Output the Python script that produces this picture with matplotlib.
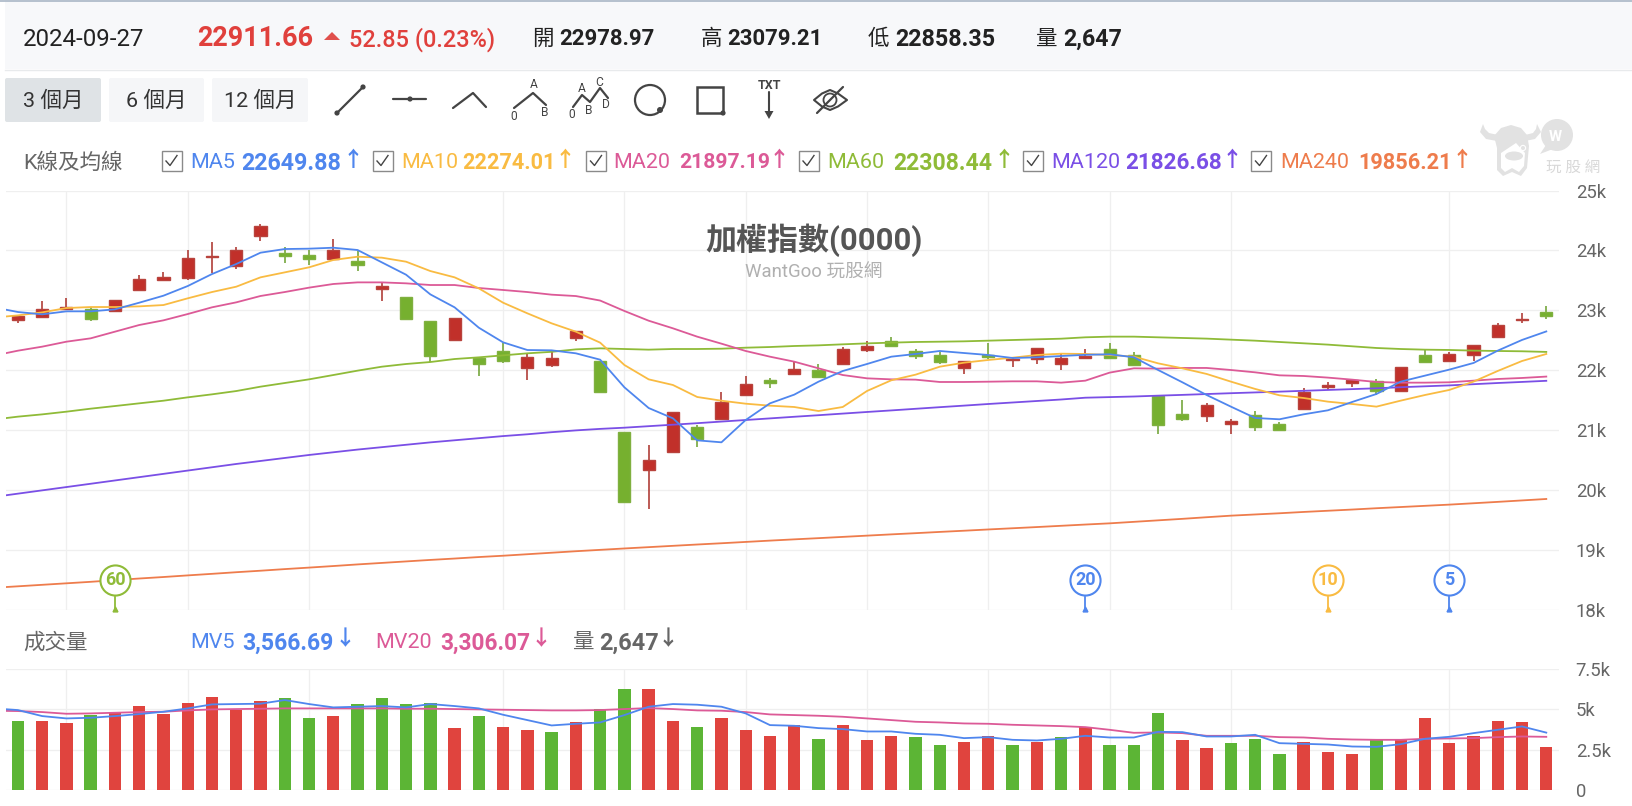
import numpy as np
import matplotlib
matplotlib.use('Agg')
import matplotlib.pyplot as plt
from matplotlib.patches import Rectangle, FancyBboxPatch, Circle, Ellipse, Polygon

plt.rcParams['font.family'] = ['Roboto', 'Noto Sans CJK TC', 'DejaVu Sans']

W, H = 1632, 806

# daily candles
opens = [22840, 22885, 23029, 23024, 22985, 23335, 23513, 23535, 23885, 23735, 24241, 23952, 23930, 23863, 23824, 23363,
         23224, 22824, 22512, 22207, 22324, 22040, 22084, 22540, 22151, 20973, 20334, 20634, 21056, 21190, 21584, 21835,
         21940, 22001, 22112, 22340, 22485, 22329, 22251, 22035, 22257, 22168, 22190, 22112, 22212, 22352, 22252, 21574,
         21279, 21240, 21112, 21251, 21101, 21363, 21729, 21791, 21818, 21663, 22252, 22163, 22257, 22563, 22835, 22978.97]
highs = [22907, 23157, 23207, 23052, 23179, 23585, 23635, 24002, 24135, 24058, 24436, 24052, 24008, 24185, 23991, 23463,
         23224, 22824, 22879, 22229, 22462, 22273, 22301, 22652, 22151, 20973, 20756, 21301, 21084, 21634, 21907, 21879,
         22157, 22107, 22385, 22485, 22552, 22357, 22312, 22151, 22457, 22229, 22374, 22268, 22357, 22458, 22302, 21574,
         21507, 21452, 21185, 21329, 21135, 21702, 21802, 21846, 21852, 22052, 22341, 22307, 22424, 22785, 22958, 23079.21]
lows = [22785, 22885, 23029, 22829, 22985, 23335, 23513, 23507, 23618, 23685, 24163, 23785, 23757, 23863, 23657, 23157,
        22863, 22140, 22512, 21912, 22129, 21834, 22062, 22485, 21640, 19784, 19683, 20634, 20728, 21190, 21584, 21712,
        21940, 21890, 22112, 22312, 22385, 22185, 22112, 21935, 22190, 22057, 22107, 22007, 22212, 22185, 22091, 20935,
        21162, 21135, 20935, 20985, 21012, 21363, 21668, 21729, 21590, 21663, 22135, 22163, 22157, 22563, 22785, 22858.35]
closes = [22907, 23029, 23057, 22863, 23179, 23530, 23552, 23880, 23908, 24002, 24408, 23913, 23863, 24002, 23763, 23402,
          22863, 22240, 22879, 22112, 22162, 22229, 22201, 22652, 21640, 19811, 20501, 21301, 20862, 21473, 21773, 21785,
          22023, 21890, 22351, 22401, 22413, 22240, 22135, 22151, 22229, 22196, 22374, 22201, 22246, 22207, 22091, 21090,
          21196, 21424, 21151, 21062, 21012, 21646, 21752, 21846, 21663, 22052, 22135, 22274, 22424, 22752, 22858, 22911.66]

# moving averages, first value is the day before the visible range
ma5 = [23052, 22974, 22935, 22985, 22985, 23018, 23129, 23246, 23407, 23607, 23774, 23963, 24024, 24030, 24046, 24008,
       23802, 23596, 23268, 23052, 22712, 22468, 22340, 22335, 22285, 22179, 21718, 21373, 21201, 20834, 20801, 21173,
       21451, 21596, 21812, 21990, 22107, 22229, 22274, 22324, 22290, 22257, 22207, 22218, 22240, 22260, 22269, 22219,
       22007, 21802, 21590, 21396, 21207, 21185, 21268, 21335, 21474, 21607, 21813, 21913, 22013, 22124, 22330, 22508, 22649.88]
ma10 = [22880, 22918, 22968, 23040, 23057, 23057, 23068, 23090, 23202, 23307, 23396, 23552, 23635, 23719, 23841, 23896,
        23880, 23813, 23657, 23552, 23368, 23129, 22952, 22785, 22646, 22463, 22090, 21851, 21757, 21557, 21495, 21445,
        21412, 21390, 21323, 21390, 21657, 21835, 21929, 22062, 22129, 22174, 22212, 22257, 22279, 22274, 22257, 22230,
        22118, 22035, 21941, 21813, 21691, 21585, 21540, 21479, 21440, 21396, 21496, 21590, 21674, 21813, 21991, 22157, 22274.01]
ma20 = [22246, 22329, 22396, 22479, 22535, 22646, 22757, 22835, 22940, 23052, 23135, 23241, 23307, 23380, 23441, 23468,
        23468, 23452, 23424, 23424, 23374, 23341, 23307, 23263, 23240, 23165, 22991, 22829, 22702, 22563, 22446, 22324,
        22229, 22146, 22035, 21923, 21868, 21851, 21846, 21807, 21807, 21812, 21818, 21818, 21796, 21829, 21963, 22035,
        22030, 22041, 22041, 22007, 21968, 21918, 21907, 21880, 21846, 21807, 21796, 21796, 21802, 21829, 21857, 21874, 21897.19]
ma60 = [21180, 21229, 21267, 21312, 21362, 21406, 21451, 21495, 21551, 21601, 21656, 21729, 21790, 21851, 21923, 21996,
        22062, 22107, 22140, 22190, 22218, 22251, 22285, 22310, 22351, 22368, 22357, 22346, 22357, 22357, 22362, 22379,
        22390, 22407, 22418, 22435, 22451, 22463, 22474, 22479, 22485, 22496, 22507, 22518, 22529, 22552, 22563, 22563,
        22552, 22541, 22530, 22513, 22496, 22474, 22452, 22430, 22402, 22374, 22357, 22346, 22341, 22330, 22324, 22319, 22308.44]
ma120 = [19890, 19945, 20000, 20055, 20110, 20165, 20220, 20275, 20330, 20385, 20440, 20490, 20540, 20590, 20635, 20680,
         20720, 20760, 20800, 20835, 20870, 20905, 20935, 20970, 21000, 21025, 21045, 21070, 21095, 21120, 21147, 21173,
         21200, 21227, 21253, 21280, 21307, 21333, 21360, 21387, 21413, 21440, 21465, 21490, 21515, 21545, 21555, 21565,
         21579, 21592, 21606, 21620, 21633, 21646, 21660, 21674, 21688, 21702, 21720, 21735, 21750, 21770, 21790, 21808, 21826.68]
ma240 = [18375, 18400, 18425, 18450, 18475, 18503, 18530, 18555, 18582, 18608, 18635, 18660, 18687, 18712, 18738, 18765,
         18790, 18815, 18840, 18863, 18888, 18910, 18935, 18960, 18985, 19008, 19031, 19053, 19075, 19097, 19118, 19140,
         19162, 19183, 19203, 19224, 19245, 19266, 19286, 19307, 19327, 19348, 19368, 19388, 19409, 19430, 19450, 19475,
         19500, 19525, 19552, 19578, 19598, 19618, 19640, 19660, 19680, 19702, 19722, 19742, 19762, 19785, 19808, 19832, 19856.21]

# volume
volume = [4279, 4279, 4175, 4651, 4795, 5209, 4713, 5395, 5767, 4961, 5498, 5684, 4465, 4568, 5312, 5684,
          5312, 5374, 3824, 4568, 3907, 3721, 3617, 4196, 5002, 6242, 6242, 4279, 3907, 4465, 3721, 3349,
          4010, 3163, 4031, 3100, 3369, 3287, 2811, 2997, 3369, 2811, 2997, 3287, 3927, 2811, 2811, 4775,
          3100, 2625, 2914, 3183, 2253, 2997, 2356, 2253, 3100, 3183, 4485, 2914, 3369, 4299, 4237, 2647]
volume_up = [0, 1, 1, 0, 1, 1, 1, 1, 1, 1, 1, 0, 0, 1, 0, 0,
             0, 0, 1, 0, 1, 1, 0, 1, 0, 0, 1, 1, 0, 1, 1, 1,
             1, 0, 1, 1, 1, 0, 0, 1, 1, 0, 1, 0, 1, 0, 0, 0,
             1, 1, 0, 0, 0, 1, 1, 1, 0, 1, 1, 1, 1, 1, 1, 1]
mv5 = [5064, 4961, 4589, 4444, 4485, 4589, 4713, 4857, 5064, 5312, 5333, 5354, 5581, 5333, 5126, 5167,
       5209, 5126, 5333, 5209, 5064, 4671, 4341, 4010, 4113, 4196, 4651, 5167, 5333, 5292, 5167, 4754,
       4031, 3989, 3845, 3783, 3638, 3638, 3493, 3431, 3225, 3287, 3121, 3080, 3183, 3369, 3266, 3266,
       3617, 3597, 3328, 3328, 3431, 2914, 2873, 2832, 2708, 2687, 2852, 3183, 3307, 3535, 3741, 3948, 3566.69]
mv20 = [4919, 4899, 4837, 4733, 4754, 4795, 4837, 4857, 4940, 5002, 5023, 5043, 5064, 5064, 5064, 5064,
        5064, 5043, 5043, 5023, 5002, 4981, 4961, 4940, 4940, 4961, 5023, 5085, 5023, 4940, 4919, 4837,
        4692, 4651, 4609, 4547, 4444, 4341, 4237, 4196, 4134, 4113, 4051, 4010, 3969, 3907, 3741, 3555,
        3576, 3535, 3369, 3369, 3369, 3287, 3266, 3183, 3142, 3121, 3121, 3183, 3204, 3225, 3287, 3328, 3306.07]

grid_days = [2, 7, 12, 20, 25, 30, 35, 40, 45, 50, 59]
price_ticks = [18000, 19000, 20000, 21000, 22000, 23000, 24000, 25000]
price_labels = ['18k', '19k', '20k', '21k', '22k', '23k', '24k', '25k']
vol_ticks = [0, 2500, 5000, 7500]
vol_labels = ['0', '2.5k', '5k', '7.5k']
period_days = [4, 44, 54, 59]
period_names = ['60', '20', '10', '5']

BLUE = '#4f86ee'
YELLOW = '#f9bb42'
PINK = '#dc5a97'
GREEN = '#8fbb38'
PURPLE = '#7a4fe6'
ORANGE = '#ee7c4c'
period_colors = [GREEN, BLUE, YELLOW, BLUE]

FONT_PX = 0.72  # points per pixel at dpi 100
GRID = '#efefef'
X0 = (6.4 - 17.9) / 24.26
X1 = (1559 - 17.9) / 24.26


def add_panel(fig, top, bottom):
    ax = fig.add_axes([6.4 / W, 1 - bottom / H, (1559 - 6.4) / W, (bottom - top) / H])
    ax.set_xlim(X0, X1)
    for s in ax.spines.values():
        s.set_visible(False)
    ax.yaxis.tick_right()
    ax.set_xticks(grid_days)
    ax.tick_params(length=0, labelbottom=False, labelright=True, labelsize=18.5 * FONT_PX,
                   labelcolor='#666666', pad=12)
    ax.grid(True, color=GRID, lw=0.9)
    ax.set_axisbelow(True)
    return ax


fig = plt.figure(figsize=(W / 100, H / 100), dpi=100, facecolor='white')

# price panel
ax = add_panel(fig, 190.5, 610.3)
ax.set_ylim(18000, 25000)
ax.set_yticks(price_ticks)
ax.set_yticklabels(price_labels)

days = np.arange(len(closes))
o = np.array(opens)
c = np.array(closes)
up = c >= o
wick_colors = ['#a92d27' if u else '#6a9f2c' for u in up]
body_colors = ['#c1302a' if u else '#76b02f' for u in up]
edge_colors = ['#b8433d' if u else '#80b040' for u in up]
ax.vlines(days, lows, highs, colors=wick_colors, lw=1.1, zorder=2)
ax.bar(days, np.abs(c - o), bottom=np.minimum(o, c), width=0.5, color=body_colors,
       edgecolor=edge_colors, linewidth=1.0, zorder=3)

line_days = np.arange(-1, len(closes))
for vals, col in [(ma240, ORANGE), (ma60, GREEN), (ma120, PURPLE), (ma20, PINK), (ma10, YELLOW), (ma5, BLUE)]:
    ax.plot(line_days, vals, color=col, lw=1.3, zorder=4, solid_joinstyle='round')

for d, name, col in zip(period_days, period_names, period_colors):
    ax.plot([d, d], [18000, 18230], color=col, lw=1.3, zorder=5, clip_on=False)
    ax.plot([d], [18030], marker='^', ms=3.5, color=col, zorder=5, clip_on=False)
    ax.scatter([d], [18505], s=470, facecolor='white', edgecolor=col, linewidth=1.5, zorder=6)
    ax.text(d, 18505, name, color=col, ha='center', va='center', fontsize=18 * FONT_PX, weight='bold', zorder=7)

ax.text(32.8, 24175, '加權指數(0000)', ha='center', va='center', fontsize=31 * FONT_PX,
        weight='bold', color='#555555', zorder=8)
ax.text(32.8, 23630, 'WantGoo 玩股網', ha='center', va='center', fontsize=18.7 * FONT_PX, color='#b0b0b0', zorder=8)

# volume panel
vax = add_panel(fig, 669.0, 790.3)
vax.set_ylim(0, 7500)
vax.set_yticks(vol_ticks)
vax.set_yticklabels(vol_labels)
vax.bar(days, volume, width=0.51, color=['#e0443e' if u else '#5cb535' for u in volume_up], zorder=2)
vax.plot(line_days, mv20, color=PINK, lw=1.3, zorder=3)
vax.plot(line_days, mv5, color=BLUE, lw=1.3, zorder=4)

# toolbar, header and legends live on a pixel overlay
ui = fig.add_axes([0, 0, 1, 1], facecolor='none')
ui.set_xlim(0, W)
ui.set_ylim(H, 0)
ui.axis('off')


def label(x, y, s, px, color='#222222', weight='normal', ha='left'):
    ui.text(x, y, s, fontsize=px * FONT_PX, color=color, weight=weight, ha=ha, va='center')


ui.add_patch(Rectangle((5, 0), W - 5, 69, facecolor='#f7f8fa', edgecolor='none'))
ui.plot([5, W], [69.5, 69.5], color='#e8eaec', lw=1)
ui.plot([0, W], [0.5, 0.5], color='#a9b6c6', lw=1.2)

label(23, 39, '2024-09-27', 24)
label(197, 38, '22911.66', 27, color='#e0403c', weight='bold')
ui.add_patch(Polygon([(324, 40), (340, 40), (332, 32)], facecolor='#e0504c', edgecolor='none'))
label(349, 39.5, '52.85 (0.23%)', 23.5, color='#e0403c', weight='medium')
for x_name, x_val, name, val, size in [(532, 559, '開', '22978.97', 22.2), (701, 727, '高', '23079.21', 22.2),
                                       (868, 895, '低', '22858.35', 23.2), (1036, 1063, '量', '2,647', 23.2)]:
    label(x_name, 39, name, 21.5)
    label(x_val, 39, val, size, weight='bold')

for x0, x1, face, s in [(5, 101, '#dfe3e6', '3 個月'), (109, 204, '#f5f6f8', '6 個月'), (212, 308, '#f5f6f8', '12 個月')]:
    ui.add_patch(FancyBboxPatch((x0 + 2, 80), x1 - x0 - 4, 40, boxstyle='round,pad=2', facecolor=face, edgecolor='none'))
    label((x0 + x1) / 2, 100.5, s, 21.5, color='#333333', ha='center')

# drawing tool icons
ICON = '#444444'


def poly(points, lw=1.6):
    xs, ys = zip(*points)
    ui.plot(xs, ys, color=ICON, lw=lw, solid_capstyle='round')


def dot(x, y, r=2.6):
    ui.add_patch(Circle((x, y), r, facecolor=ICON, edgecolor='none'))


poly([(337, 113), (363, 87)])
dot(337, 113)
dot(363, 87)
poly([(393, 99), (426, 99)])
dot(410, 99)
poly([(453, 108), (473, 93), (486, 107)])
poly([(514, 108), (533, 93), (546, 105)])
for x, y, s in [(533.5, 85, 'A'), (514, 117, '0'), (545, 113, 'B'), (581.6, 88, 'A'), (599, 82, 'C'),
                (571.6, 114, '0'), (589, 110, 'B'), (606, 104, 'D')]:
    label(x, y, s, 12, color=ICON, ha='center')
poly([(573, 107), (582, 95), (590, 102), (600, 88), (608, 98)])
ui.add_patch(Ellipse((650, 100), 30, 30, facecolor='none', edgecolor=ICON, lw=1.6))
dot(660, 110, 3)
ui.add_patch(Rectangle((697, 87), 26, 26, facecolor='none', edgecolor=ICON, lw=1.8))
dot(723, 113)
label(769, 85.5, 'TXT', 12.5, color=ICON, weight='bold', ha='center')
poly([(769, 92), (769, 113)], lw=1.5)
ui.add_patch(Polygon([(764.5, 111), (773.5, 111), (769, 119)], facecolor=ICON, edgecolor='none'))
ui.add_patch(Polygon([(814, 100), (822, 93.5), (830, 90), (838, 93.5), (847, 100), (838, 106.5), (830, 110), (822, 106.5)],
                     closed=True, facecolor='none', edgecolor=ICON, lw=1.5, joinstyle='round'))
ui.add_patch(Circle((830, 100), 6.5, facecolor='none', edgecolor=ICON, lw=1.3))
poly([(817, 113), (843, 87)])

# MA legend row
label(23, 162.5, 'K線及均線', 21.5, color='#666666')
legend_rows = [
    (161.5, 190.5, 241.5, 353.5, 'MA5', '22649.88', BLUE, 23.2),
    (372.5, 401, 462.5, 565, 'MA10', '22274.01', YELLOW, 21.7),
    (586, 613.5, 679, 779, 'MA20', '21897.19', PINK, 21.1),
    (798.5, 827.5, 893.5, 1004, 'MA60', '22308.44', GREEN, 23),
    (1023, 1051, 1125.5, 1232, 'MA120', '21826.68', PURPLE, 22.5),
    (1251, 1280, 1358.5, 1462, 'MA240', '19856.21', ORANGE, 21.8),
]
for x_box, x_name, x_val, x_arrow, name, val, col, size in legend_rows:
    ui.add_patch(Rectangle((x_box, 151), 20, 20, facecolor='white', edgecolor='#8a8a8a', lw=1))
    ui.plot([x_box + 4.5, x_box + 8.5, x_box + 15.5], [161, 165.5, 155.5], color='#444444', lw=1)
    label(x_name, 163, name, 21.5, color=col)
    label(x_val, 163, val, size, color=col, weight='bold')
    label(x_arrow, 160, '↑', 21, color=col, weight='bold', ha='center')

# volume legend row
label(23, 642.5, '成交量', 21.5, color='#666666')
label(190.5, 643, 'MV5', 21.5, color=BLUE)
label(242, 643, '3,566.69', 23, color=BLUE, weight='bold')
label(345, 640, '↓', 21, color=BLUE, weight='bold', ha='center')
label(375.5, 643, 'MV20', 21.5, color=PINK)
label(440, 643, '3,306.07', 22.6, color=PINK, weight='bold')
label(541, 640, '↓', 21, color=PINK, weight='bold', ha='center')
label(572.5, 642.5, '量', 21.5, color='#666666')
label(599, 643, '2,647', 23.5, color='#666666', weight='bold')
label(668, 640, '↓', 21, color='#666666', weight='bold', ha='center')

# site logo: bull head with a speech bubble
LOGO = '#e2e2e2'
ui.add_patch(Circle((1557, 135), 16, facecolor=LOGO, edgecolor='none'))
ui.add_patch(Polygon([(1546, 145), (1540, 154), (1553, 149)], facecolor=LOGO, edgecolor='none'))
label(1555, 137, 'W', 15, color='white', weight='bold', ha='center')
ui.add_patch(Polygon([(1483, 124), (1480, 132), (1486, 139), (1497, 141), (1498, 135), (1489, 133), (1485, 129)],
                     facecolor=LOGO, edgecolor='none'))
ui.add_patch(Polygon([(1537, 124), (1541, 132), (1535, 139), (1525, 141), (1525, 135), (1533, 133), (1536, 129)],
                     facecolor=LOGO, edgecolor='none'))
ui.add_patch(Polygon([(1497, 148), (1497, 170), (1503, 176), (1512, 172), (1521, 176), (1527, 168), (1529, 146),
                      (1527, 135), (1521, 128), (1511, 125), (1501, 128), (1494, 136)], facecolor=LOGO, edgecolor='none'))
ui.add_patch(Polygon([(1501, 153), (1501, 168), (1505, 172), (1512, 168), (1519, 172), (1524, 166), (1525, 153),
                      (1516, 143)], facecolor='white', edgecolor='none'))
ui.add_patch(Ellipse((1514, 156), 18, 9, facecolor=LOGO, edgecolor='none'))
ui.add_patch(Circle((1523, 148), 2.6, facecolor=LOGO, edgecolor='white', lw=0.8))
label(1573, 167, '玩 股 網', 15.5, color='#d8d8d8', ha='center')

fig.savefig('out.png', dpi=100)
